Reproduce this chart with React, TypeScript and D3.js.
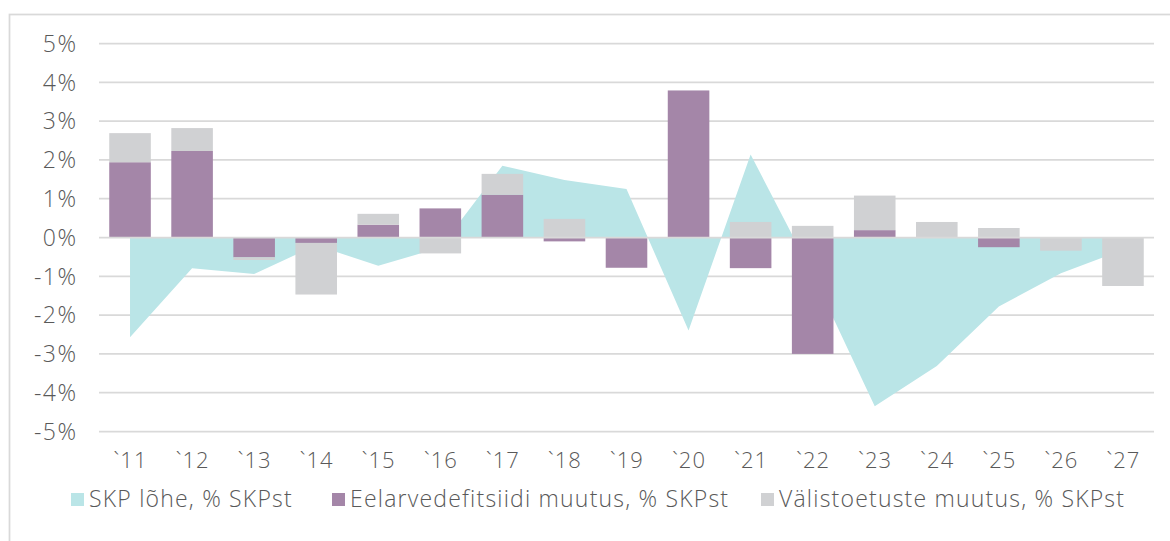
import React from "react";
import * as d3 from "d3";

const years = ["`11", "`12", "`13", "`14", "`15", "`16", "`17", "`18", "`19", "`20", "`21", "`22", "`23", "`24", "`25", "`26", "`27"];
const gdpGap = [-2.57, -0.79, -0.94, -0.2, -0.73, -0.26, 1.85, 1.48, 1.25, -2.4, 2.14, -0.95, -4.35, -3.31, -1.78, -0.92, -0.32];
const deficitChange = [1.94, 2.23, -0.51, -0.14, 0.33, 0.75, 1.1, -0.1, -0.78, 3.79, -0.79, -3.0, 0.19, 0, -0.25, 0, 0];
const foreignAidChange = [0.75, 0.59, -0.07, -1.33, 0.28, -0.41, 0.54, 0.48, 0, 0, 0.4, 0.3, 0.89, 0.4, 0.245, -0.34, -1.25];
const yTicks = [5, 4, 3, 2, 1, 0, -1, -2, -3, -4, -5];
const legendItems = [
  { label: "SKP lõhe, % SKPst", color: "#BAE5E7", x: 71 },
  { label: "Eelarvedefitsiidi muutus, % SKPst", color: "#A486A8", x: 332 },
  { label: "Välistoetuste muutus, % SKPst", color: "#D0D1D3", x: 761 },
];

const W = 1170;
const H = 541;
const FONT = "'Open Sans', sans-serif";
const TEXT = "#595959";

export default function App() {
  const x = d3.scaleBand<string>().domain(years).range([99, 1154]).paddingInner(0.33).paddingOuter(0.165);
  const y = d3.scaleLinear().domain([-5, 5]).range([431.5, 43.5]);
  const cx = (i: number) => (x(years[i]) as number) + x.bandwidth() / 2;

  const area = d3
    .area<number>()
    .x((_, i) => cx(i))
    .y0(y(0))
    .y1((d) => y(d));

  // diverging stack
  const bars: { x: number; y0: number; y1: number; color: string; key: string }[] = [];
  years.forEach((yr, i) => {
    let pos = 0;
    let neg = 0;
    const series = [
      { v: deficitChange[i], color: "#A486A8", k: "d" },
      { v: foreignAidChange[i], color: "#D0D1D3", k: "f" },
    ];
    series.forEach((s) => {
      if (s.v === 0) return;
      if (s.v > 0) {
        bars.push({ x: x(yr) as number, y0: pos, y1: pos + s.v, color: s.color, key: yr + s.k });
        pos += s.v;
      } else {
        bars.push({ x: x(yr) as number, y0: neg, y1: neg + s.v, color: s.color, key: yr + s.k });
        neg += s.v;
      }
    });
  });

  return (
    <svg width={W} height={H} style={{ position: "absolute", left: 0, top: 0, background: "#fff" }} fontFamily={FONT}>
      <rect x={9.5} y={14.5} width={1200} height={600} fill="none" stroke="#D9D9D9" strokeWidth={1.75} />
      {yTicks.map((t) => (
        <g key={t}>
          {t !== 0 && <line x1={99} x2={1154} y1={y(t)} y2={y(t)} stroke="#D9D9D9" strokeWidth={1.75} />}
          <text x={77.5} y={y(t)} dy="0.36em" textAnchor="end" fontSize={23} fill={TEXT} fontWeight={300} letterSpacing={1.5}>
            {t}%
          </text>
        </g>
      ))}
      <path d={area(gdpGap) || ""} fill="#BAE5E7" />
      {bars.map((b) => (
        <rect
          key={b.key}
          x={b.x}
          width={x.bandwidth()}
          y={y(Math.max(b.y0, b.y1))}
          height={Math.abs(y(b.y0) - y(b.y1))}
          fill={b.color}
        />
      ))}
      <line x1={99} x2={1154} y1={y(0)} y2={y(0)} stroke="#D9D9D9" strokeWidth={1.75} />
      {years.map((yr, i) => (
        <text key={yr} x={cx(i) + 0.5} y={468} textAnchor="middle" fontSize={22} fill={TEXT} fontWeight={300} letterSpacing={1}>
          {yr}
        </text>
      ))}
      {legendItems.map((l) => (
        <g key={l.label}>
          <rect x={l.x} y={493} width={13} height={13} fill={l.color} />
          <text x={l.x + 18} y={507} fontSize={23} fill={TEXT} fontWeight={300} letterSpacing={1.2}>
            {l.label}
          </text>
        </g>
      ))}
    </svg>
  );
}
